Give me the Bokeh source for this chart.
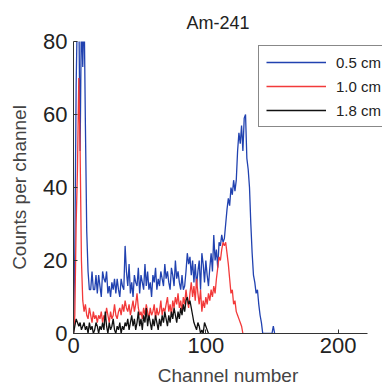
from bokeh.plotting import figure
from bokeh.models import Legend, LegendItem, FixedTicker, Range1d
from bokeh.embed import file_html
from bokeh.resources import INLINE

title_text = "Am-241"
x_label = "Channel number"
y_label = "Counts per channel"
x_ticks = [0, 100, 200]
y_ticks = [0, 20, 40, 60, 80]
x_axis_end = 222
series_labels = ["0.5 cm", "1.0 cm", "1.8 cm"]

# counts per channel, index = channel number
counts_05 = [0, 22, 68, 90, 90, 50, 88, 73, 90, 57,
             28, 17, 12, 12, 17, 12, 12, 16, 11, 16,
             13, 10, 17, 15, 14, 17, 11, 13, 10, 14,
             12, 15, 11, 15, 12, 10, 15, 13, 12, 24,
             17, 13, 19, 11, 14, 10, 16, 14, 13, 18,
             11, 16, 14, 12, 19, 13, 17, 12, 14, 10,
             16, 14, 18, 12, 15, 13, 17, 15, 13, 19,
             15, 17, 14, 12, 18, 16, 13, 20, 15, 17,
             14, 12, 16, 12, 13, 17, 22, 19, 21, 16,
             20, 14, 19, 13, 17, 20, 12, 22, 19, 14,
             20, 16, 13, 18, 22, 17, 27, 20, 23, 18,
             25, 24, 27, 25, 26, 30, 34, 37, 35, 40,
             38, 42, 39, 42, 50, 55, 52, 57, 50, 59,
             60, 48, 45, 40, 30, 22, 16, 14, 11, 12,
             8, 5, 3, 0, 0, 0, 0, 0, 0, 0,
             0, 2, 0]

counts_10 = [0, 5, 30, 45, 70, 50, 20, 9, 6, 8,
             5, 4, 7, 5, 3, 6, 4, 5, 3, 5,
             4, 6, 3, 5, 4, 7, 5, 3, 6, 4,
             5, 8, 5, 4, 6, 7, 5, 8, 6, 9,
             7, 6, 8, 5, 7, 9, 6, 8, 11, 7,
             5, 6, 4, 7, 5, 8, 6, 4, 7, 5,
             6, 8, 4, 7, 5, 6, 9, 5, 7, 6,
             8, 10, 6, 8, 5, 9, 7, 10, 8, 11,
             7, 9, 6, 10, 8, 12, 9, 7, 11, 14,
             10, 13, 9, 15, 11, 8, 12, 6, 9, 7,
             10, 8, 11, 9, 12, 10, 13, 11, 15, 18,
             21, 20, 23, 25, 24, 25, 22, 19, 15, 11,
             12, 8, 9, 6, 5, 4, 3, 2, 0]

counts_18 = [0, 2, 4, 3, 2, 3, 1, 2, 3, 1,
             2, 0, 3, 1, 2, 0, 1, 3, 2, 0,
             2, 1, 3, 1, 6, 2, 0, 3, 1, 2,
             4, 1, 0, 2, 1, 3, 0, 2, 1, 3,
             2, 4, 1, 3, 5, 2, 4, 1, 3, 6,
             2, 4, 1, 5, 3, 7, 2, 5, 3, 1,
             4, 2, 5, 3, 1, 4, 2, 5, 3, 6,
             4, 2, 5, 3, 6, 4, 7, 5, 3, 6,
             4, 7, 5, 8, 6, 9, 10, 8, 9, 7,
             5, 3, 2, 1, 3, 2, 0, 1, 0, 3,
             2, 1, 0]

colors = ["#2142b0", "#f23a3a", "#111111"]
series = [counts_05, counts_10, counts_18]

FONT = "Liberation Sans"

# frame runs to the right edge of the canvas so the legend can reach it;
# the x axis line itself stops at x_axis_end (axis bounds)
p = figure(width=382, height=389, output_backend="svg", toolbar_location=None,
           x_range=Range1d(0, 233.5), y_range=Range1d(0, 80),
           min_border_left=73, min_border_right=0, min_border_top=41,
           min_border_bottom=56)

p.title.text = title_text
p.title.align = "left"
p.title.offset = 113
p.title.text_font = FONT
p.title.text_font_size = "18px"
p.title.text_font_style = "normal"
p.title.text_color = "#222222"
p.title.standoff = 18

p.xgrid.grid_line_color = None
p.ygrid.grid_line_color = None
p.outline_line_color = None
p.background_fill_color = "white"
p.border_fill_color = "white"

for ax, ticks, lab in ((p.xaxis[0], x_ticks, x_label), (p.yaxis[0], y_ticks, y_label)):
    ax.ticker = FixedTicker(ticks=ticks)
    ax.axis_label = lab
    ax.axis_label_text_font = FONT
    ax.axis_label_text_font_size = "19px"
    ax.axis_label_text_font_style = "normal"
    ax.axis_label_text_color = "#444444"
    ax.major_label_text_font = FONT
    ax.major_label_text_font_size = "22px"
    ax.major_label_text_color = "#222222"
    ax.major_tick_in = 4
    ax.major_tick_out = 0
    ax.minor_tick_line_color = None
    ax.axis_line_color = "#333333"
    ax.major_tick_line_color = "#333333"
    ax.major_label_standoff = 6
    ax.axis_label_standoff = 10

xax = p.xaxis[0]
xax.bounds = (0, x_axis_end)
xax.major_label_standoff = 4
xax.axis_label_standoff = 9

items = []
for data, col, lab in zip(series, colors, series_labels):
    r = p.line(list(range(len(data))), data, line_color=col, line_width=1.3)
    items.append(LegendItem(label=lab, renderers=[r]))

legend = Legend(items=items, location=(185, 206))
legend.label_text_font = FONT
legend.label_text_font_size = "15px"
legend.label_text_color = "#222222"
legend.glyph_width = 60
legend.glyph_height = 18
legend.label_height = 18
legend.label_standoff = 10
legend.spacing = 6
legend.padding = 7
legend.margin = 0
legend.border_line_color = "#111111"
legend.border_line_width = 1.2
legend.background_fill_color = "white"
legend.background_fill_alpha = 1.0
p.add_layout(legend, "center")

open("out.html", "w").write(file_html(p, INLINE))
